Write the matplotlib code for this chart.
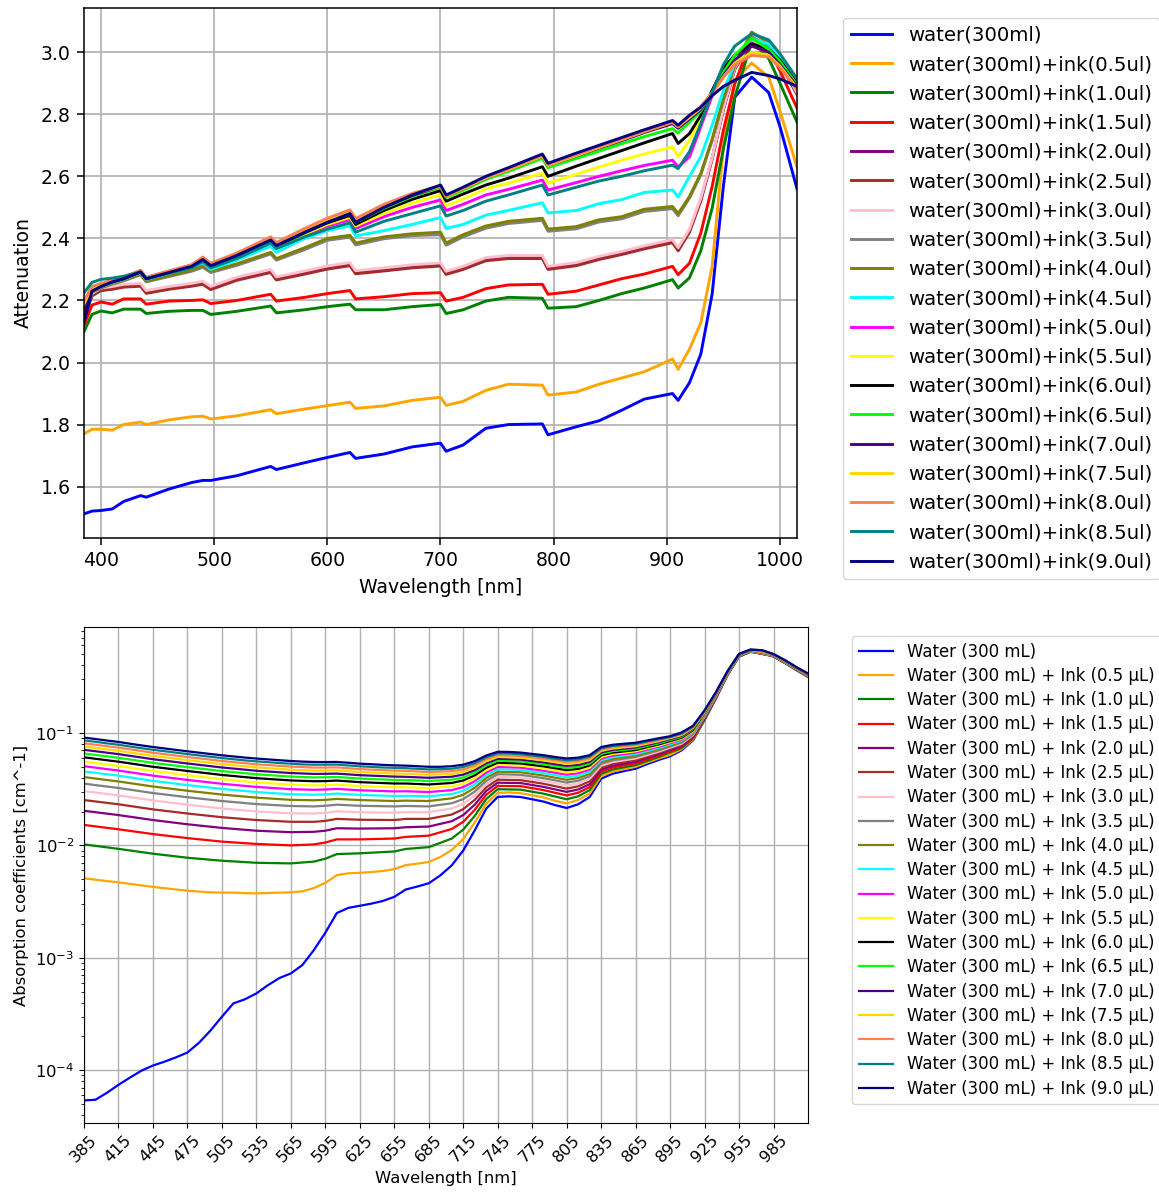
import matplotlib
matplotlib.use('Agg')
import matplotlib.pyplot as plt
import numpy as np

colors = ['blue', 'orange', 'green', 'red', 'purple', 'brown', 'pink', 'gray', 'olive', 'cyan',
          'magenta', 'yellow', 'black', 'lime', 'indigo', 'gold', 'coral', 'teal', 'navy']
ink_ul = ['0.5', '1.0', '1.5', '2.0', '2.5', '3.0', '3.5', '4.0', '4.5', '5.0',
          '5.5', '6.0', '6.5', '7.0', '7.5', '8.0', '8.5', '9.0']

# ---- attenuation (top) ----
wl_top = [385, 392, 400, 410, 420, 435, 440, 460, 480, 490, 497, 520, 550, 555, 580, 600, 620, 625, 650, 675, 700,
          705, 720, 740, 760, 790, 795, 820, 840, 860, 880, 905, 910, 920, 930, 940, 950, 960, 975, 990, 1000, 1015]
att_w = [1.512, 1.521, 1.523, 1.528, 1.552, 1.571, 1.566, 1.592, 1.613, 1.620, 1.620, 1.635, 1.665, 1.655, 1.677,
         1.694, 1.710, 1.691, 1.705, 1.728, 1.740, 1.714, 1.734, 1.788, 1.800, 1.802, 1.767, 1.793, 1.812, 1.846,
         1.882, 1.900, 1.878, 1.935, 2.027, 2.22, 2.57, 2.855, 2.92, 2.87, 2.76, 2.56]
att_05 = [1.77, 1.785, 1.785, 1.782, 1.80, 1.808, 1.80, 1.815, 1.825, 1.827, 1.818, 1.828, 1.848, 1.835, 1.85,
          1.861, 1.872, 1.852, 1.86, 1.878, 1.888, 1.862, 1.875, 1.91, 1.93, 1.927, 1.895, 1.905, 1.93, 1.95,
          1.97, 2.011, 1.978, 2.043, 2.128, 2.31, 2.695, 2.91, 2.965, 2.92, 2.81, 2.63]
att_10 = [2.10, 2.155, 2.166, 2.16, 2.172, 2.172, 2.158, 2.165, 2.168, 2.168, 2.155, 2.165, 2.182, 2.16, 2.17,
          2.18, 2.188, 2.17, 2.17, 2.18, 2.187, 2.158, 2.17, 2.198, 2.21, 2.207, 2.175, 2.18, 2.20, 2.222,
          2.24, 2.267, 2.24, 2.273, 2.36, 2.497, 2.69, 2.855, 3.035, 2.98, 2.90, 2.775]
att_15 = [2.12, 2.185, 2.195, 2.188, 2.205, 2.205, 2.188, 2.198, 2.20, 2.202, 2.19, 2.20, 2.22, 2.198, 2.21,
          2.222, 2.232, 2.205, 2.212, 2.222, 2.225, 2.198, 2.21, 2.238, 2.25, 2.252, 2.22, 2.23, 2.25, 2.27,
          2.285, 2.31, 2.283, 2.32, 2.417, 2.567, 2.749, 2.898, 3.045, 3.01, 2.94, 2.82]
att_20 = [2.14, 2.215, 2.233, 2.238, 2.245, 2.248, 2.225, 2.238, 2.248, 2.255, 2.238, 2.268, 2.293, 2.269, 2.288,
          2.304, 2.315, 2.289, 2.298, 2.308, 2.314, 2.287, 2.303, 2.331, 2.338, 2.338, 2.303, 2.315, 2.335, 2.351,
          2.369, 2.389, 2.363, 2.425, 2.525, 2.658, 2.818, 2.948, 3.03, 3.005, 2.965, 2.865]
att_25 = [2.15, 2.215, 2.232, 2.236, 2.243, 2.246, 2.223, 2.236, 2.246, 2.252, 2.235, 2.265, 2.29, 2.266, 2.285,
          2.301, 2.312, 2.286, 2.295, 2.305, 2.311, 2.284, 2.30, 2.328, 2.335, 2.335, 2.30, 2.312, 2.332, 2.348,
          2.366, 2.386, 2.36, 2.42, 2.52, 2.655, 2.815, 2.945, 3.035, 3.005, 2.965, 2.865]
att_30 = [2.16, 2.222, 2.24, 2.245, 2.252, 2.255, 2.232, 2.245, 2.255, 2.262, 2.245, 2.275, 2.30, 2.276, 2.295,
          2.311, 2.322, 2.296, 2.305, 2.315, 2.321, 2.294, 2.31, 2.338, 2.345, 2.345, 2.31, 2.322, 2.342, 2.358,
          2.376, 2.396, 2.37, 2.43, 2.53, 2.66, 2.82, 2.95, 3.04, 3.01, 2.97, 2.87]
att_35 = [2.15, 2.226, 2.24, 2.253, 2.263, 2.283, 2.26, 2.277, 2.294, 2.307, 2.29, 2.313, 2.35, 2.33, 2.364,
          2.394, 2.404, 2.379, 2.399, 2.409, 2.412, 2.378, 2.405, 2.433, 2.448, 2.458, 2.423, 2.431, 2.453, 2.463,
          2.487, 2.496, 2.473, 2.53, 2.605, 2.715, 2.845, 2.955, 3.05, 3.02, 2.98, 2.895]
att_40 = [2.15, 2.228, 2.242, 2.255, 2.265, 2.285, 2.262, 2.28, 2.298, 2.312, 2.295, 2.318, 2.355, 2.335, 2.37,
          2.40, 2.41, 2.385, 2.405, 2.415, 2.42, 2.385, 2.412, 2.44, 2.455, 2.465, 2.43, 2.438, 2.46, 2.47,
          2.494, 2.503, 2.48, 2.535, 2.61, 2.72, 2.85, 2.96, 3.065, 3.03, 2.99, 2.90]
att_45 = [2.17, 2.232, 2.245, 2.258, 2.268, 2.29, 2.268, 2.288, 2.305, 2.322, 2.30, 2.33, 2.375, 2.355, 2.40,
          2.425, 2.44, 2.408, 2.425, 2.445, 2.467, 2.432, 2.445, 2.475, 2.49, 2.515, 2.482, 2.49, 2.512, 2.525,
          2.548, 2.556, 2.534, 2.60, 2.663, 2.765, 2.877, 2.963, 3.043, 3.027, 2.984, 2.90]
att_50 = [2.16, 2.235, 2.25, 2.264, 2.274, 2.296, 2.274, 2.294, 2.314, 2.336, 2.316, 2.345, 2.391, 2.373, 2.412,
          2.44, 2.46, 2.432, 2.47, 2.50, 2.524, 2.49, 2.51, 2.54, 2.558, 2.588, 2.556, 2.58, 2.60, 2.618,
          2.635, 2.652, 2.63, 2.663, 2.76, 2.86, 2.94, 2.99, 3.03, 3.0, 2.97, 2.88]
att_55 = [2.17, 2.235, 2.248, 2.26, 2.27, 2.292, 2.27, 2.29, 2.31, 2.33, 2.31, 2.343, 2.391, 2.373, 2.414,
          2.445, 2.468, 2.44, 2.48, 2.514, 2.54, 2.505, 2.527, 2.56, 2.578, 2.61, 2.578, 2.607, 2.63, 2.652,
          2.672, 2.695, 2.663, 2.717, 2.79, 2.87, 2.945, 2.99, 3.02, 3.0, 2.96, 2.88]
att_60 = [2.16, 2.232, 2.246, 2.26, 2.27, 2.292, 2.27, 2.29, 2.309, 2.331, 2.311, 2.343, 2.393, 2.375, 2.418,
          2.45, 2.474, 2.445, 2.49, 2.526, 2.554, 2.52, 2.543, 2.572, 2.594, 2.631, 2.60, 2.633, 2.658, 2.683,
          2.708, 2.738, 2.706, 2.738, 2.797, 2.877, 2.95, 2.99, 3.027, 3.01, 2.975, 2.9]
att_65 = [2.17, 2.235, 2.248, 2.26, 2.27, 2.292, 2.27, 2.29, 2.31, 2.332, 2.312, 2.345, 2.395, 2.377, 2.422,
          2.455, 2.481, 2.452, 2.497, 2.535, 2.565, 2.532, 2.555, 2.59, 2.616, 2.658, 2.628, 2.658, 2.681, 2.705,
          2.728, 2.754, 2.74, 2.775, 2.81, 2.87, 2.935, 2.99, 3.045, 3.01, 2.97, 2.895]
att_70 = [2.16, 2.235, 2.247, 2.26, 2.27, 2.292, 2.27, 2.29, 2.31, 2.333, 2.313, 2.346, 2.397, 2.379, 2.423,
          2.455, 2.482, 2.454, 2.50, 2.538, 2.568, 2.536, 2.56, 2.595, 2.621, 2.665, 2.635, 2.666, 2.691, 2.715,
          2.741, 2.77, 2.755, 2.785, 2.815, 2.865, 2.925, 2.975, 3.02, 3.0, 2.96, 2.89]
att_75 = [2.19, 2.24, 2.252, 2.263, 2.273, 2.295, 2.273, 2.293, 2.313, 2.337, 2.317, 2.35, 2.401, 2.383, 2.428,
          2.46, 2.487, 2.459, 2.505, 2.542, 2.568, 2.536, 2.56, 2.595, 2.621, 2.665, 2.635, 2.667, 2.693, 2.718,
          2.744, 2.775, 2.76, 2.79, 2.82, 2.865, 2.92, 2.965, 3.0, 2.99, 2.955, 2.885]
att_80 = [2.20, 2.245, 2.255, 2.265, 2.275, 2.297, 2.275, 2.295, 2.315, 2.34, 2.32, 2.353, 2.405, 2.387, 2.432,
          2.465, 2.492, 2.464, 2.51, 2.545, 2.57, 2.538, 2.562, 2.597, 2.624, 2.668, 2.638, 2.67, 2.696, 2.72,
          2.745, 2.775, 2.76, 2.795, 2.825, 2.87, 2.92, 2.96, 2.99, 2.985, 2.95, 2.88]
att_85 = [2.225, 2.258, 2.268, 2.272, 2.278, 2.292, 2.27, 2.288, 2.305, 2.325, 2.305, 2.335, 2.385, 2.367, 2.405,
          2.43, 2.45, 2.42, 2.455, 2.48, 2.505, 2.472, 2.49, 2.52, 2.54, 2.572, 2.54, 2.565, 2.585, 2.60,
          2.618, 2.636, 2.625, 2.68, 2.77, 2.87, 2.96, 3.02, 3.06, 3.04, 2.995, 2.915]
att_90 = [2.13, 2.23, 2.245, 2.26, 2.27, 2.292, 2.27, 2.29, 2.31, 2.332, 2.312, 2.345, 2.395, 2.377, 2.42,
          2.452, 2.48, 2.452, 2.50, 2.54, 2.572, 2.54, 2.565, 2.60, 2.628, 2.672, 2.642, 2.675, 2.70, 2.725,
          2.75, 2.78, 2.765, 2.797, 2.823, 2.86, 2.89, 2.91, 2.935, 2.925, 2.914, 2.89]

# ---- absorption coefficients (bottom), values in 1e-3 cm^-1 ----
wl_fine = [385, 395, 405, 415, 425, 435, 445, 455, 465, 475, 485, 495, 505, 515, 525, 535,
           545, 555, 565, 575, 585, 595, 605, 615, 625, 635, 645, 655, 665, 675, 685, 695,
           705, 715, 725, 735, 745, 755, 765, 775, 785, 795, 805, 815, 825, 835, 845, 855,
           865, 875, 885, 895, 905, 915, 925, 935, 945, 955, 965, 975, 985, 995, 1005, 1015]
wl_mid = [385, 415, 445, 475, 505, 535, 565, 585, 595, 605, 625, 655, 665, 685, 705, 715, 725, 735, 745,
          765, 785, 805, 815, 825, 835, 845, 865, 885, 905, 915, 925, 935, 945, 955, 965, 985, 1015]
abs_w = [0.0538, 0.0546, 0.063, 0.0741, 0.086, 0.099, 0.110, 0.119, 0.130, 0.1436, 0.175, 0.225, 0.299, 0.393,
         0.427, 0.482, 0.57, 0.66, 0.726, 0.861, 1.17, 1.67, 2.5, 2.78, 2.90, 3.03, 3.2, 3.48, 4.05, 4.3, 4.6,
         5.4, 6.64, 9.0, 13.6, 21.2, 27.0, 27.3, 26.9, 25.7, 24.5, 22.8, 21.5, 23.2, 26.9, 39.2, 43.4, 45.8,
         48.1, 52.8, 57.5, 62, 70, 86, 130, 203, 327, 478, 526, 519, 478, 420, 361, 315]
abs_05 = [5.1, 4.95, 4.81, 4.69, 4.54, 4.4, 4.27, 4.16, 4.05, 3.95, 3.88, 3.82, 3.8, 3.8, 3.76, 3.74, 3.77, 3.8,
          3.82, 3.9, 4.17, 4.64, 5.43, 5.64, 5.7, 5.79, 5.91, 6.15, 6.67, 6.87, 7.12, 7.88, 9.08, 11.4, 16, 23.5,
          29.3, 29.6, 29.1, 27.9, 26.7, 24.9, 23.6, 25.3, 28.9, 41.2, 45.4, 47.7, 50, 54.6, 59.3, 63.8, 71.7,
          87.7, 132, 205, 329, 480, 527, 520, 479, 421, 362, 316]
abs_10 = [10.2, 9.31, 8.43, 7.76, 7.30, 7.00, 6.91, 7.17, 7.61, 8.36, 8.50, 8.82, 9.29, 9.64, 11.5, 13.8, 18.3,
          25.8, 31.6, 31.3, 28.8, 25.7, 27.3, 31.0, 43.2, 47.3, 51.8, 61.1, 73.4, 89.3, 133, 206, 330, 481, 529,
          481, 318]
abs_15 = [15.2, 13.9, 12.6, 11.6, 10.8, 10.3, 10.0, 10.2, 10.6, 11.3, 11.3, 11.5, 11.9, 12.2, 14.0, 16.2, 20.7,
          28.2, 33.8, 33.6, 31.0, 27.8, 29.4, 33.0, 45.2, 49.3, 53.7, 62.9, 75.1, 91.0, 135, 208, 332, 483, 530,
          482, 319]
abs_20 = [20.3, 18.6, 16.8, 15.4, 14.3, 13.5, 13.1, 13.2, 13.5, 14.2, 14.1, 14.2, 14.5, 14.7, 16.4, 18.6, 23.0,
          30.5, 36.1, 35.8, 33.1, 29.9, 31.4, 35.0, 47.2, 51.2, 55.6, 64.7, 76.8, 92.7, 137, 209, 333, 484, 532,
          484, 320]
abs_25 = [25.3, 23.2, 20.9, 19.2, 17.8, 16.8, 16.2, 16.2, 16.5, 17.2, 16.9, 16.8, 17.2, 17.2, 18.8, 21.0, 25.4,
          32.8, 38.4, 38.0, 35.3, 32.0, 33.5, 37.1, 49.2, 53.2, 57.5, 66.5, 78.6, 94.4, 138, 211, 335, 486, 533,
          485, 321]
abs_30 = [30.4, 27.8, 25.1, 23.0, 21.3, 20.0, 19.3, 19.2, 19.5, 20.1, 19.7, 19.5, 19.8, 19.7, 21.3, 23.4, 27.8,
          35.1, 40.7, 40.2, 37.5, 34.1, 35.6, 39.1, 51.1, 55.1, 59.3, 68.2, 80.3, 96.0, 140, 213, 336, 487, 535,
          486, 323]
abs_35 = [35.4, 32.4, 29.2, 26.8, 24.8, 23.3, 22.4, 22.2, 22.5, 23.0, 22.5, 22.2, 22.4, 22.2, 23.7, 25.8, 30.1,
          37.4, 43.0, 42.4, 39.6, 36.2, 37.6, 41.1, 53.1, 57.1, 61.2, 70.0, 82.0, 97.7, 141, 214, 338, 489, 536,
          488, 324]
abs_40 = [40.5, 37.0, 33.4, 30.6, 28.3, 26.6, 25.4, 25.2, 25.4, 25.9, 25.3, 24.8, 25.0, 24.8, 26.2, 28.2, 32.5,
          39.8, 45.2, 44.7, 41.8, 38.3, 39.7, 43.1, 55.1, 59.0, 63.1, 71.8, 83.7, 99.4, 143, 216, 339, 490, 538,
          489, 325]
abs_45 = [45.5, 41.7, 37.5, 34.4, 31.8, 29.8, 28.5, 28.2, 28.4, 28.9, 28.1, 27.5, 27.6, 27.3, 28.6, 30.6, 34.8,
          42.1, 47.5, 46.9, 43.9, 40.4, 41.7, 45.2, 57.1, 61.0, 64.9, 73.6, 85.4, 101, 145, 217, 341, 492, 539,
          491, 326]
abs_50 = [50.6, 46.3, 41.7, 38.2, 35.3, 33.1, 31.6, 31.2, 31.4, 31.8, 30.9, 30.2, 30.3, 29.8, 31.0, 33.0, 37.2,
          44.4, 49.8, 49.1, 46.1, 42.5, 43.8, 47.2, 59.1, 62.9, 66.8, 75.4, 87.1, 103, 146, 219, 343, 493, 541,
          492, 328]
abs_55 = [55.6, 50.9, 45.9, 42.1, 38.8, 36.3, 34.7, 34.2, 34.3, 34.7, 33.7, 32.9, 32.9, 32.3, 33.5, 35.4, 39.6,
          46.7, 52.1, 51.3, 48.3, 44.6, 45.9, 49.2, 61.1, 64.9, 68.7, 77.2, 88.8, 104, 148, 220, 344, 495, 542,
          493, 329]
abs_60 = [60.7, 55.5, 50.0, 45.9, 42.3, 39.6, 37.8, 37.2, 37.3, 37.7, 36.5, 35.5, 35.5, 34.8, 35.9, 37.8, 41.9,
          49.0, 54.4, 53.5, 50.4, 46.7, 47.9, 51.3, 63.1, 66.8, 70.5, 79.0, 90.5, 106, 150, 222, 346, 496, 544,
          495, 330]
abs_65 = [65.7, 60.1, 54.2, 49.7, 45.8, 42.9, 40.9, 40.2, 40.3, 40.6, 39.3, 38.2, 38.1, 37.4, 38.4, 40.2, 44.3,
          51.4, 56.6, 55.8, 52.6, 48.8, 50.0, 53.3, 65.1, 68.8, 72.4, 80.8, 92.2, 108, 151, 224, 347, 498, 545,
          496, 332]
abs_70 = [70.8, 64.8, 58.4, 53.5, 49.3, 46.1, 44.0, 43.2, 43.3, 43.5, 42.1, 40.9, 40.7, 39.9, 40.8, 42.6, 46.6,
          53.7, 58.9, 58.0, 54.7, 50.9, 52.0, 55.3, 67.1, 70.7, 74.3, 82.6, 93.9, 109, 153, 225, 349, 499, 547,
          497, 333]
abs_75 = [75.8, 69.4, 62.5, 57.3, 52.8, 49.4, 47.1, 46.2, 46.2, 46.5, 44.9, 43.5, 43.4, 42.4, 43.2, 45.0, 49.0,
          56.0, 61.2, 60.2, 56.9, 53.0, 54.1, 57.4, 69.1, 72.7, 76.2, 84.4, 95.7, 111, 154, 227, 350, 501, 548,
          499, 334]
abs_80 = [80.9, 74.0, 66.7, 61.1, 56.3, 52.6, 50.2, 49.2, 49.2, 49.4, 47.7, 46.2, 46.0, 44.9, 45.7, 47.4, 51.4,
          58.3, 63.5, 62.4, 59.1, 55.1, 56.2, 59.4, 71.0, 74.6, 78.0, 86.1, 97.4, 113, 156, 228, 352, 502, 550,
          500, 335]
abs_85 = [85.9, 83.4, 80.8, 78.6, 75.7, 73.2, 70.8, 68.8, 66.8, 64.9, 63.1, 61.4, 59.8, 58.4, 57, 55.9, 55, 54,
          53.3, 52.5, 52.2, 52.2, 52.3, 51.4, 50.5, 49.9, 49.3, 48.9, 48.6, 48, 47.4, 47.6, 48.1, 49.8, 53.7, 60.6,
          65.8, 65.5, 64.6, 62.9, 61.2, 59, 57.2, 58.2, 61.4, 73, 76.6, 78.3, 79.9, 83.9, 87.9, 91.8, 99.1, 114,
          158, 230, 353, 504, 551, 543, 502, 443, 383, 337]
abs_90 = [91, 88.3, 85.6, 83.2, 80.2, 77.5, 75, 72.8, 70.7, 68.7, 66.8, 65, 63.3, 61.8, 60.4, 59.2, 58.2, 57.2,
          56.3, 55.6, 55.2, 55.1, 55.2, 54.3, 53.3, 52.7, 52, 51.5, 51.2, 50.6, 50, 50, 50.6, 52.2, 56.1, 63, 68,
          67.8, 66.9, 65.1, 63.4, 61.1, 59.3, 60.3, 63.4, 75, 78.5, 80.2, 81.8, 85.7, 89.7, 93.5, 101, 116, 159,
          232, 355, 505, 552, 545, 503, 444, 385, 338]

att_series = [att_w, att_05, att_10, att_15, att_20, att_25, att_30, att_35, att_40, att_45,
              att_50, att_55, att_60, att_65, att_70, att_75, att_80, att_85, att_90]
abs_series = [(wl_fine, abs_w), (wl_fine, abs_05), (wl_mid, abs_10), (wl_mid, abs_15), (wl_mid, abs_20),
              (wl_mid, abs_25), (wl_mid, abs_30), (wl_mid, abs_35), (wl_mid, abs_40), (wl_mid, abs_45),
              (wl_mid, abs_50), (wl_mid, abs_55), (wl_mid, abs_60), (wl_mid, abs_65), (wl_mid, abs_70),
              (wl_mid, abs_75), (wl_mid, abs_80), (wl_fine, abs_85), (wl_fine, abs_90)]

top_labels = ['water(300ml)'] + ['water(300ml)+ink(%sul)' % c for c in ink_ul]
bot_labels = ['Water (300 mL)'] + ['Water (300 mL) + Ink (%s µL)' % c for c in ink_ul]

W, H = 1159, 1192
fig = plt.figure(figsize=(W / 100, H / 100), dpi=100)

# top plot (drawn a bit bigger than the lower one)
ax1 = fig.add_axes([84 / W, 1 - 538 / H, 713 / W, 530 / H])
for y, c, lab in zip(att_series, colors, top_labels):
    ax1.plot(wl_top, y, color=c, lw=2.1, label=lab)
ax1.set_xlim(385, 1015)
ax1.set_xticks([400, 500, 600, 700, 800, 900, 1000])
ax1.set_yticks([1.6, 1.8, 2.0, 2.2, 2.4, 2.6, 2.8, 3.0])
ax1.tick_params(labelsize=13.6, length=4.8, width=1.1, pad=4.8)
for sp in ax1.spines.values():
    sp.set_linewidth(1.1)
ax1.set_xlabel('Wavelength [nm]', fontsize=13.6, labelpad=5.4)
ax1.set_ylabel('Attenuation', fontsize=13.6, labelpad=5.4)
ax1.grid(True, lw=1.2)
ax1.legend(loc='upper left', bbox_to_anchor=(843 / W, 1 - 18 / H), bbox_transform=fig.transFigure,
           borderaxespad=0, fontsize=14.2, handlelength=2.1, labelspacing=0.52)

# bottom plot
ax2 = fig.add_axes([84 / W, 1 - 1123 / H, 724 / W, 496 / H])
for (x, y), c, lab in zip(abs_series, colors, bot_labels):
    ax2.plot(x, np.array(y) * 1e-3, color=c, lw=1.6, label=lab)
ax2.set_yscale('log')
ax2.set_xlim(385, 1015)
ax2.set_xticks(list(range(385, 986, 30)))
ax2.tick_params(axis='x', labelrotation=45)
ax2.tick_params(labelsize=11.8)
ax2.set_xlabel('Wavelength [nm]', fontsize=11.8)
ax2.set_ylabel('Absorption coefficients [cm^-1]', fontsize=11.8)
ax2.grid(True, lw=1.0)
ax2.legend(loc='upper left', bbox_to_anchor=(852 / W, 1 - 636 / H), bbox_transform=fig.transFigure,
           borderaxespad=0, fontsize=11.9, handlelength=2.1, labelspacing=0.38)

fig.savefig('out.png', dpi=100)
